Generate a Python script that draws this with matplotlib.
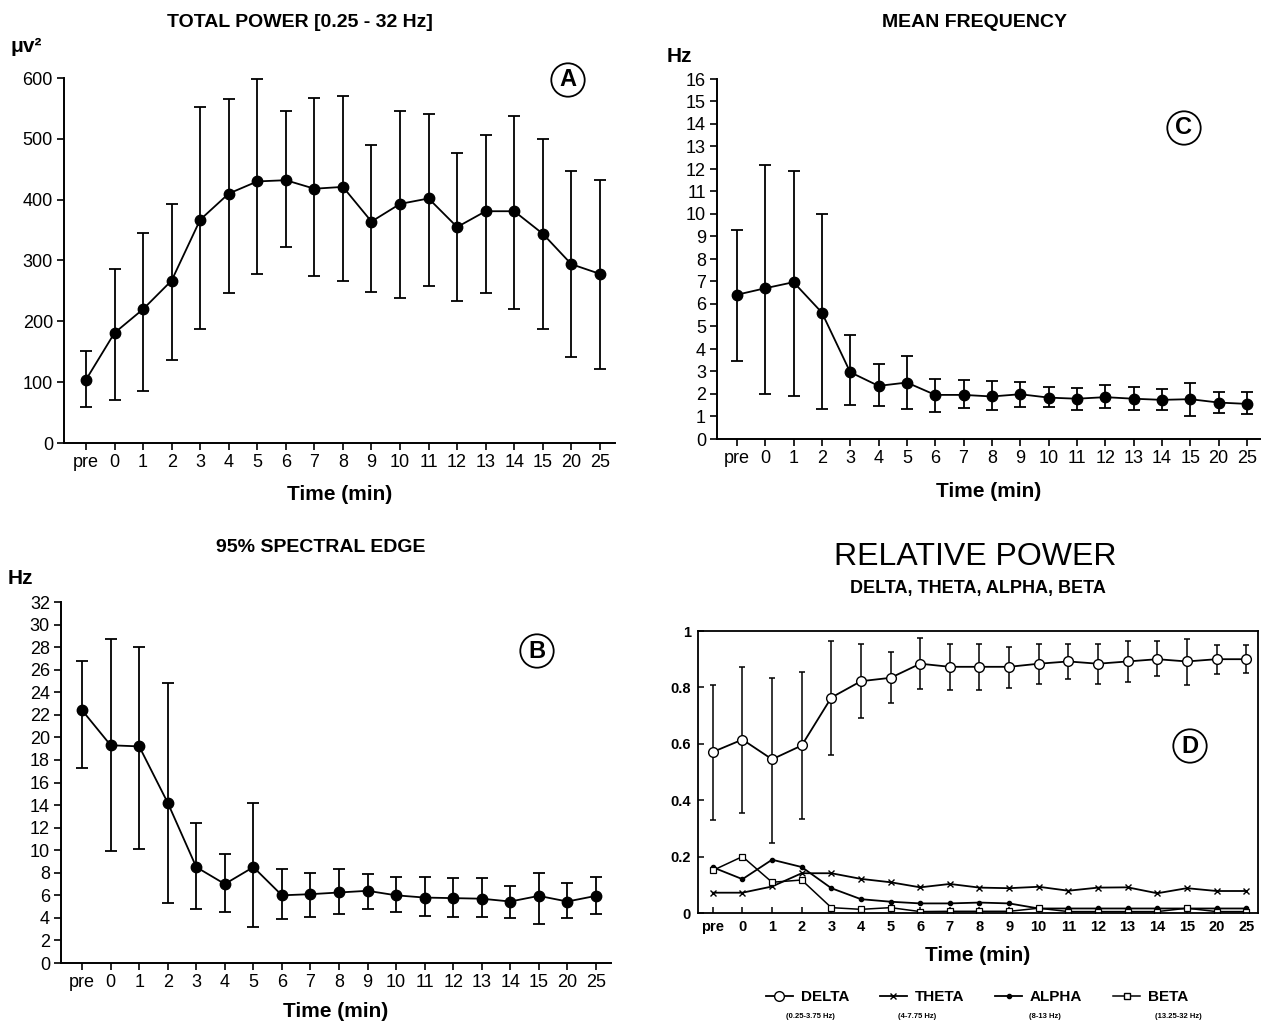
import numpy as np
import matplotlib.pyplot as plt
from matplotlib.lines import Line2D

plt.rcParams['font.family'] = ['Liberation Sans', 'DejaVu Sans']

# ------------------------------------------
# data
# ------------------------------------------
time_labels = ['pre', '0', '1', '2', '3', '4', '5', '6', '7', '8', '9',
               '10', '11', '12', '13', '14', '15', '20', '25']

# A: total power (uV^2), mean with lower / upper end of the error bar
power_mean = [104, 181, 220, 267, 367, 410, 430, 432, 418, 421, 364, 393, 402, 355, 381, 381, 344, 294, 278]
power_hi = [151, 286, 345, 393, 553, 565, 598, 546, 567, 570, 490, 546, 541, 477, 506, 537, 500, 447, 433]
power_lo = [59, 71, 85, 137, 187, 247, 277, 322, 275, 267, 249, 238, 258, 234, 247, 220, 187, 141, 122]

# B: 95% spectral edge (Hz)
edge_mean = [22.4, 19.3, 19.2, 14.2, 8.5, 7.0, 8.5, 6.0, 6.1, 6.25, 6.4, 6.0, 5.8, 5.75, 5.7, 5.45, 5.95, 5.45, 5.95]
edge_hi = [26.8, 28.7, 28.0, 24.8, 12.4, 9.7, 14.2, 8.3, 8.0, 8.35, 7.9, 7.6, 7.6, 7.5, 7.5, 6.85, 8.0, 7.1, 7.6]
edge_lo = [17.3, 9.9, 10.1, 5.3, 4.8, 4.5, 3.2, 3.9, 4.1, 4.3, 4.8, 4.5, 4.2, 4.1, 4.1, 4.0, 3.5, 4.0, 4.3]

# C: mean frequency (Hz)
freq_mean = [6.41, 6.70, 6.97, 5.62, 2.97, 2.36, 2.51, 1.96, 1.96, 1.89, 1.99, 1.84, 1.79, 1.86, 1.79, 1.74, 1.77, 1.62, 1.56]
freq_hi = [9.30, 12.19, 11.93, 10.0, 4.63, 3.34, 3.70, 2.66, 2.60, 2.56, 2.53, 2.30, 2.26, 2.38, 2.30, 2.21, 2.48, 2.11, 2.11]
freq_lo = [3.47, 2.0, 1.89, 1.33, 1.52, 1.47, 1.33, 1.22, 1.37, 1.30, 1.44, 1.44, 1.27, 1.37, 1.30, 1.27, 1.04, 1.15, 1.10]

# D: relative power
delta_mean = [0.571, 0.615, 0.545, 0.594, 0.764, 0.822, 0.834, 0.884, 0.873, 0.873, 0.873, 0.884, 0.892, 0.884, 0.892, 0.900, 0.892, 0.900, 0.900]
delta_hi = [0.810, 0.873, 0.834, 0.855, 0.963, 0.954, 0.924, 0.974, 0.954, 0.954, 0.942, 0.953, 0.953, 0.954, 0.963, 0.963, 0.971, 0.951, 0.951]
delta_lo = [0.331, 0.354, 0.250, 0.334, 0.561, 0.691, 0.746, 0.793, 0.791, 0.791, 0.799, 0.813, 0.830, 0.813, 0.820, 0.840, 0.808, 0.849, 0.851]
theta = [0.072, 0.072, 0.094, 0.141, 0.141, 0.121, 0.109, 0.091, 0.103, 0.090, 0.088, 0.093, 0.079, 0.090, 0.091, 0.070, 0.088, 0.078, 0.078]
alpha = [0.162, 0.120, 0.189, 0.163, 0.088, 0.049, 0.040, 0.034, 0.034, 0.037, 0.034, 0.016, 0.016, 0.016, 0.016, 0.016, 0.016, 0.016, 0.016]
beta = [0.151, 0.200, 0.109, 0.117, 0.019, 0.013, 0.019, 0.005, 0.006, 0.006, 0.006, 0.017, 0.005, 0.005, 0.005, 0.005, 0.017, 0.005, 0.005]

band_names = ['DELTA', 'THETA', 'ALPHA', 'BETA']
band_ranges = ['(0.25-3.75 Hz)', '(4-7.75 Hz)', '(8-13 Hz)', '(13.25-32 Hz)']

x = np.arange(len(time_labels))
W, H = 1266, 1022

fig = plt.figure(figsize=(W / 100, H / 100), dpi=100)


def box(l, r, t, b):
    # pixel box -> figure fraction rect
    return [l / W, 1 - b / H, (r - l) / W, (b - t) / H]


def ftext(px, py, s, **kw):
    fig.text(px / W, 1 - py / H, s, **kw)


def circled(px, py, letter):
    ftext(px, py, letter, ha='center', va='center', fontsize=17, fontweight='bold',
          bbox=dict(boxstyle='circle,pad=0.22', fc='white', ec='black', lw=1.3))


def mean_panel(rect, mean, lo, hi, ylim, yticks, xlim, xpad):
    ax = fig.add_axes(rect)
    mean = np.array(mean)
    err = [mean - np.array(lo), np.array(hi) - mean]
    ax.errorbar(x, mean, yerr=err, fmt='-o', color='black', ms=7.5, lw=1.3,
                elinewidth=1.3, capsize=4, capthick=1.3)
    ax.set_xlim(*xlim)
    ax.set_ylim(*ylim)
    ax.set_yticks(yticks)
    ax.set_xticks(x)
    ax.set_xticklabels(time_labels)
    ax.spines[['top', 'right']].set_visible(False)
    ax.spines[['left', 'bottom']].set_linewidth(1.4)
    ax.tick_params(direction='out', length=5, width=1.2, labelsize=13, pad=3)
    ax.set_xlabel('Time (min)', fontsize=15, fontweight='bold', labelpad=xpad)
    return ax


# ---- A: total power
axA = mean_panel(box(64, 615, 78, 443), power_mean, power_lo, power_hi,
                 (0, 600), np.arange(0, 601, 100), (-0.77, 18.53), 10)
ftext(300, 22, 'TOTAL POWER [0.25 - 32 Hz]', ha='center', va='center', fontsize=14, fontweight='bold')
ftext(10, 46, 'μv²', ha='left', va='center', fontsize=15, fontweight='bold')
circled(568, 80, 'A')

# ---- C: mean frequency
axC = mean_panel(box(717, 1260, 79, 439), freq_mean, freq_lo, freq_hi,
                 (0, 16), np.arange(0, 17, 1), (-0.70, 18.46), 11)
ftext(975, 22, 'MEAN FREQUENCY', ha='center', va='center', fontsize=14, fontweight='bold')
ftext(667, 57, 'Hz', ha='left', va='center', fontsize=15, fontweight='bold')
circled(1184, 128, 'C')

# ---- B: 95% spectral edge
axB = mean_panel(box(61, 611, 602, 963), edge_mean, edge_lo, edge_hi,
                 (0, 32), np.arange(0, 33, 2), (-0.74, 18.53), 8)
ftext(321, 548, '95% SPECTRAL EDGE', ha='center', va='center', fontsize=14, fontweight='bold')
ftext(8, 578, 'Hz', ha='left', va='center', fontsize=15, fontweight='bold')
circled(537, 651, 'B')

# ---- D: relative power
axD = fig.add_axes(box(698, 1258, 631, 913))
dm = np.array(delta_mean)
axD.errorbar(x, dm, yerr=[dm - np.array(delta_lo), np.array(delta_hi) - dm], fmt='-o',
             color='black', mfc='white', mec='black', ms=7, lw=1.3, elinewidth=1.1,
             capsize=2.5, capthick=1.1, zorder=3)
axD.plot(x, theta, '-x', color='black', ms=4.5, mew=1.0, lw=1.3)
axD.plot(x, alpha, '-o', color='black', ms=3, lw=1.3)
axD.plot(x, beta, '-s', color='black', mfc='white', ms=5, mew=0.9, lw=1.1)
axD.set_xlim(-0.5, 18.4)
axD.set_ylim(0, 1)
axD.set_yticks([0, 0.2, 0.4, 0.6, 0.8, 1])
axD.set_yticklabels(['0', '0.2', '0.4', '0.6', '0.8', '1'])
axD.set_xticks(x)
axD.set_xticklabels(time_labels)
for sp in axD.spines.values():
    sp.set_linewidth(1.3)
axD.tick_params(direction='in', length=4, width=1.1, labelsize=10.5, pad=5)
for lab in axD.get_xticklabels() + axD.get_yticklabels():
    lab.set_fontweight('bold')
axD.set_xlabel('Time (min)', fontsize=15, fontweight='bold', labelpad=9)

ftext(975, 557, 'RELATIVE POWER', ha='center', va='center', fontsize=23)
ftext(978, 588, 'DELTA, THETA, ALPHA, BETA', ha='center', va='center', fontsize=13, fontweight='bold')
circled(1190, 746, 'D')

handles = [
    Line2D([], [], color='black', marker='o', mfc='white', ms=7, lw=1.3),
    Line2D([], [], color='black', marker='x', ms=4.5, lw=1.3),
    Line2D([], [], color='black', marker='o', ms=3, lw=1.3),
    Line2D([], [], color='black', marker='s', mfc='white', ms=5, lw=1.1),
]
fig.legend(handles, band_names, loc='center', bbox_to_anchor=(977 / W, 1 - 997 / H), ncol=4,
           frameon=False, handlelength=1.8, handletextpad=0.5, columnspacing=2.0,
           prop=dict(size=11, weight='bold'))
for px, txt in zip([810, 917, 1045, 1178], band_ranges):
    ftext(px, 1016, txt, ha='center', va='center', fontsize=5.5, fontweight='bold')

fig.savefig('out.png', dpi=100)
